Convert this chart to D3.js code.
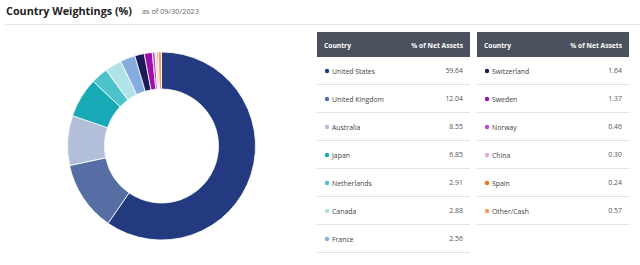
<!DOCTYPE html>
<meta charset="utf-8">
<style>
  body { margin: 0; background: #fff; font-family: "Open Sans", sans-serif; }
</style>
<script src="https://d3js.org/d3.v7.min.js"></script>
<div id="chart"></div>
<script>
  // data
  var countries = ["United States", "United Kingdom", "Australia", "Japan", "Netherlands", "Canada", "France",
    "Switzerland", "Sweden", "Norway", "China", "Spain", "Other/Cash"];
  var weights = [59.64, 12.04, 8.55, 6.85, 2.91, 2.88, 2.56, 1.64, 1.37, 0.46, 0.30, 0.24, 0.57];
  var colors = ["#233a80", "#566ea3", "#b3bfd9", "#17a9b5", "#4ec2ca", "#afe3e7", "#86addf",
    "#1b1b57", "#9a10ae", "#c04ac9", "#e4a6e7", "#f26a1e", "#f7a160"];
  var headers = ["Country", "% of Net Assets"];

  var W = 640, H = 265;
  var svg = d3.select("#chart").append("svg")
    .attr("width", W)
    .attr("height", H);

  // title
  svg.append("text")
    .attr("x", 6).attr("y", 14.5)
    .attr("font-size", 10.8).attr("font-weight", 700).attr("fill", "#222")
    .text("Country Weightings (%)");
  svg.append("text")
    .attr("x", 142).attr("y", 13.5)
    .attr("font-size", 7.3).attr("fill", "#666")
    .text("as of  09/30/2023");
  svg.append("line")
    .attr("x1", 5).attr("x2", W).attr("y1", 24.5).attr("y2", 24.5)
    .attr("stroke", "#e6e6e6");

  // donut
  var color = d3.scaleOrdinal().domain(countries).range(colors);
  var pie = d3.pie().sort(null).value(function (d) { return d.v; });
  var arc = d3.arc().innerRadius(57).outerRadius(94);
  var rows = countries.map(function (c, i) { return { c: c, v: weights[i] }; });

  var g = svg.append("g").attr("transform", "translate(161.5,146)");
  g.selectAll("path")
    .data(pie(rows))
    .enter()
    .append("path")
    .attr("d", arc)
    .attr("fill", function (d) { return color(d.data.c); })
    .attr("stroke", "#fff")
    .attr("stroke-width", 0.8);

  // tables
  function table(x0, x1, data) {
    var t = svg.append("g");
    var y = d3.scaleBand().domain(d3.range(7)).range([57, 253]);
    t.append("rect")
      .attr("x", x0).attr("y", 32).attr("width", x1 - x0).attr("height", 25)
      .attr("fill", "#4b515d");
    t.append("text")
      .attr("x", x0 + 7).attr("y", 47.5)
      .attr("font-size", 6.7).attr("font-weight", 700).attr("fill", "#fff")
      .text(headers[0]);
    t.append("text")
      .attr("x", x1 - 7).attr("y", 47.5).attr("text-anchor", "end")
      .attr("font-size", 6.7).attr("font-weight", 700).attr("fill", "#fff")
      .text(headers[1]);

    var r = t.selectAll(".row").data(data).enter().append("g").attr("class", "row");
    r.append("line")
      .attr("x1", x0).attr("x2", x1)
      .attr("y1", function (d, i) { return Math.round(y(i) + y.bandwidth()) - 0.5; })
      .attr("y2", function (d, i) { return Math.round(y(i) + y.bandwidth()) - 0.5; })
      .attr("stroke", "#e3e3e3");
    r.append("circle")
      .attr("cx", x0 + 10).attr("cy", function (d, i) { return y(i) + 14; })
      .attr("r", 2.2)
      .attr("fill", function (d) { return color(d.c); });
    r.append("text")
      .attr("x", x0 + 15).attr("y", function (d, i) { return y(i) + 16.5; })
      .attr("font-size", 6.9).attr("fill", "#444")
      .text(function (d) { return d.c; });
    r.append("text")
      .attr("x", x1 - 7).attr("y", function (d, i) { return y(i) + 16; })
      .attr("text-anchor", "end")
      .attr("font-size", 6.9).attr("fill", "#555")
      .text(function (d) { return d.v.toFixed(2); });
  }
  table(317, 470, rows.slice(0, 7));
  table(477, 629, rows.slice(7));
</script>
